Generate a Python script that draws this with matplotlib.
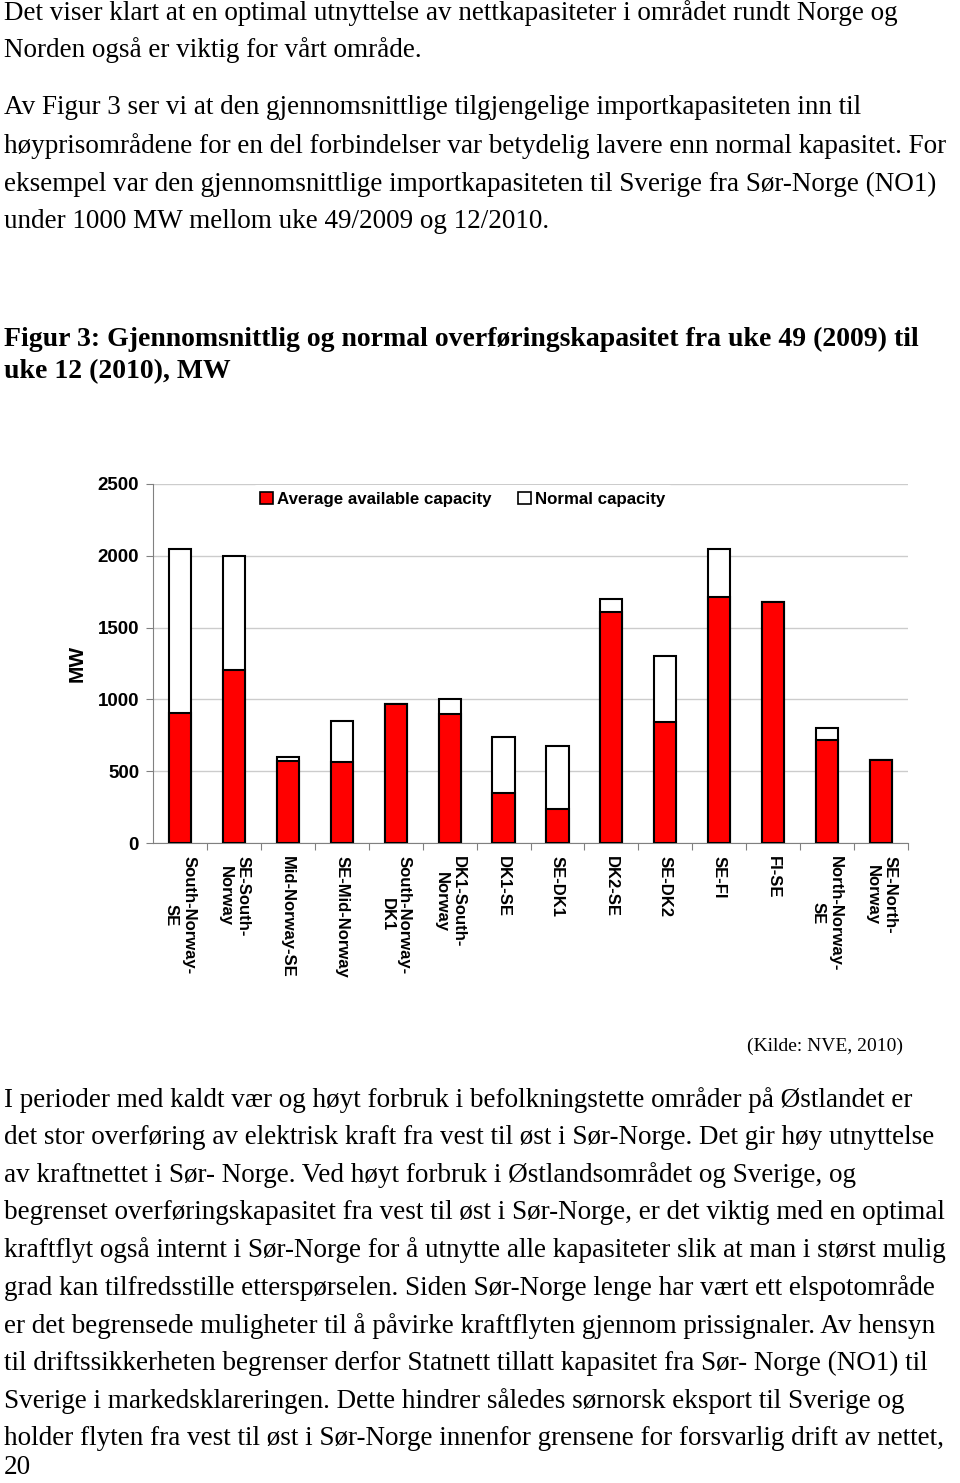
import matplotlib
matplotlib.use('Agg')
import matplotlib.pyplot as plt
from matplotlib.patches import Patch

# data (MW)
links = ['South-Norway-\nSE', 'SE-South-\nNorway', 'Mid-Norway-SE', 'SE-Mid-Norway',
         'South-Norway-\nDK1', 'DK1-South-\nNorway', 'DK1-SE', 'SE-DK1', 'DK2-SE',
         'SE-DK2', 'SE-FI', 'FI-SE', 'North-Norway-\nSE', 'SE-North-\nNorway']
normal_cap = [2050, 2000, 600, 850, 970, 1000, 740, 675, 1700, 1300, 2050, 1680, 800, 580]
avg_cap = [905, 1205, 570, 565, 970, 900, 345, 240, 1610, 845, 1715, 1680, 720, 580]
yticks = [0, 500, 1000, 1500, 2000, 2500]

intro = ["Det viser klart at en optimal utnyttelse av nettkapasiteter i området rundt Norge og",
         "Norden også er viktig for vårt område.",
         "Av Figur 3 ser vi at den gjennomsnittlige tilgjengelige importkapasiteten inn til",
         "høyprisområdene for en del forbindelser var betydelig lavere enn normal kapasitet. For",
         "eksempel var den gjennomsnittlige importkapasiteten til Sverige fra Sør-Norge (NO1)",
         "under 1000 MW mellom uke 49/2009 og 12/2010."]
intro_y = [13, 50, 108, 146, 184, 221]
title = ["Figur 3: Gjennomsnittlig og normal overføringskapasitet fra uke 49 (2009) til",
         "uke 12 (2010), MW"]
body = ["I perioder med kaldt vær og høyt forbruk i befolkningstette områder på Østlandet er",
        "det stor overføring av elektrisk kraft fra vest til øst i Sør-Norge. Det gir høy utnyttelse",
        "av kraftnettet i Sør- Norge. Ved høyt forbruk i Østlandsområdet og Sverige, og",
        "begrenset overføringskapasitet fra vest til øst i Sør-Norge, er det viktig med en optimal",
        "kraftflyt også internt i Sør-Norge for å utnytte alle kapasiteter slik at man i størst mulig",
        "grad kan tilfredsstille etterspørselen. Siden Sør-Norge lenge har vært ett elspotområde",
        "er det begrensede muligheter til å påvirke kraftflyten gjennom prissignaler. Av hensyn",
        "til driftssikkerheten begrenser derfor Statnett tillatt kapasitet fra Sør- Norge (NO1) til",
        "Sverige i markedsklareringen. Dette hindrer således sørnorsk eksport til Sverige og",
        "holder flyten fra vest til øst i Sør-Norge innenfor grensene for forsvarlig drift av nettet,",
        "20"]

W, H = 960, 1483
fig = plt.figure(figsize=(W / 100, H / 100), dpi=100)
serif = ['Liberation Serif', 'DejaVu Serif']
sans = ['Liberation Sans', 'DejaVu Sans']


def put(x, y, s, **kw):
    fig.text(x / W, 1 - y / H, s, va='center', family=kw.pop('family', serif), **kw)


for line, y in zip(intro, intro_y):
    put(4, y, line, fontsize=19.5)
for i, line in enumerate(title):
    put(4, 339 + i * 33, line, fontsize=20, weight='bold')
put(903, 1046, '(Kilde: NVE, 2010)', fontsize=14, ha='right')
for i, line in enumerate(body):
    put(4, min(1100 + i * 37.6, 1468), line, fontsize=19.5)

ax = fig.add_axes([153 / W, 1 - 843 / H, (908 - 153) / W, (843 - 484) / H])
x = list(range(len(links)))
ax.bar(x, normal_cap, width=0.41, color='white', edgecolor='black', linewidth=1.5, zorder=2)
ax.bar(x, avg_cap, width=0.41, color='#ff0000', edgecolor='black', linewidth=1.5, zorder=3)

ax.set_xlim(-0.5, len(links) - 0.5)
ax.set_ylim(0, 2500)
ax.set_yticks(yticks)
ax.set_yticklabels([str(t) for t in yticks], fontsize=13.5, weight='bold', family=sans)
ax.yaxis.grid(True, color='#cccccc', linewidth=1, zorder=0)
ax.set_axisbelow(True)
ax.set_xticks([i + 0.5 for i in x])
ax.set_xticklabels([])
ax.tick_params(axis='x', length=5, color='#808080', direction='out')
ax.tick_params(axis='y', length=5, color='#808080', direction='out', pad=5)
for sp in ['top', 'right']:
    ax.spines[sp].set_visible(False)
for sp in ['left', 'bottom']:
    ax.spines[sp].set_color('#808080')
for i, lab in enumerate(links):
    ax.text(i, -90, lab, rotation=270, ha='center', va='top', multialignment='center',
            fontsize=12, weight='bold', family=sans)
ax.set_ylabel('MW', fontsize=15, weight='bold', family=sans, labelpad=8)

handles = [Patch(facecolor='#ff0000', edgecolor='black', linewidth=1.2),
           Patch(facecolor='white', edgecolor='black', linewidth=1.2)]
leg = ax.legend(handles, ['Average available capacity', 'Normal capacity'], ncol=2,
                loc='upper left', bbox_to_anchor=(0.122, 1.02), frameon=True,
                handlelength=0.75, handleheight=0.75, handletextpad=0.25, columnspacing=1.55,
                prop={'family': sans, 'weight': 'bold', 'size': 12.2})
leg.get_frame().set_facecolor('white')
leg.get_frame().set_edgecolor('none')
leg.get_frame().set_alpha(1)

fig.savefig('out.png', dpi=100)
